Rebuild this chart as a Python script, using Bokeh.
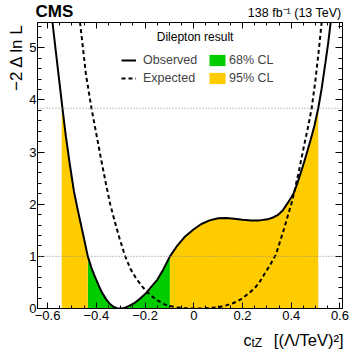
import numpy as np
from bokeh.plotting import figure
from bokeh.layouts import column, row
from bokeh.models import (Range1d, LinearAxis, FixedTicker, CustomJSTickFormatter,
                          Span, Label, Legend, LegendItem)
from bokeh.embed import file_html
from bokeh.resources import INLINE

# ---------------- data ----------------
obs_x = [-0.580, -0.568, -0.553, -0.539, -0.525, -0.510, -0.492, -0.478, -0.465, -0.450,
         -0.435, -0.420, -0.405, -0.390, -0.376, -0.360, -0.345, -0.330, -0.315, -0.300,
         -0.285, -0.265, -0.242, -0.220, -0.195, -0.172, -0.150, -0.125, -0.098, -0.070,
         -0.038, 0.000, 0.031, 0.065, 0.100, 0.133, 0.166, 0.200, 0.235, 0.270,
         0.303, 0.325, 0.344, 0.365, 0.385, 0.400, 0.411, 0.425, 0.439, 0.453,
         0.467, 0.480, 0.495, 0.511, 0.525, 0.540, 0.552, 0.562]
obs_y = [5.49, 5.00, 4.40, 3.84, 3.30, 2.80, 2.25, 1.93, 1.65, 1.33,
         1.00, 0.78, 0.60, 0.44, 0.30, 0.18, 0.09, 0.035, 0.005, 0.0,
         0.012, 0.05, 0.11, 0.19, 0.30, 0.43, 0.55, 0.75, 1.00, 1.19,
         1.37, 1.52, 1.62, 1.69, 1.73, 1.735, 1.72, 1.70, 1.69, 1.69,
         1.71, 1.745, 1.79, 1.88, 2.02, 2.13, 2.22, 2.40, 2.60, 2.81,
         3.03, 3.24, 3.50, 3.84, 4.22, 4.70, 5.10, 5.49]

exp_x = [-0.467, -0.455, -0.443, -0.420, -0.400, -0.380, -0.360, -0.343, -0.325, -0.305,
         -0.283, -0.260, -0.237, -0.213, -0.190, -0.165, -0.144, -0.120, -0.100, -0.070,
         -0.040, -0.010, 0.020, 0.050, 0.080, 0.105, 0.133, 0.160, 0.180, 0.201,
         0.225, 0.248, 0.268, 0.290, 0.310, 0.337, 0.370, 0.405, 0.430, 0.453,
         0.470, 0.484, 0.500, 0.512, 0.525]
exp_y = [5.49, 5.00, 4.50, 3.84, 3.35, 2.85, 2.38, 2.00, 1.68, 1.35,
         1.02, 0.76, 0.58, 0.43, 0.31, 0.21, 0.14, 0.08, 0.05, 0.02,
         0.006, 0.0, 0.0, 0.005, 0.015, 0.03, 0.06, 0.10, 0.14, 0.20,
         0.29, 0.38, 0.49, 0.66, 0.81, 1.03, 1.52, 2.08, 2.60, 3.13,
         3.50, 3.84, 4.40, 4.90, 5.49]

cl68 = [-0.435, -0.098]
cl95 = [-0.542, 0.511]
thresholds = [1.0, 3.84]

x_ticks = [-0.6, -0.4, -0.2, 0.0, 0.2, 0.4, 0.6]
y_ticks = [0, 1, 2, 3, 4, 5]

X_RANGE = (-0.6415, 0.6105)
Y_RANGE = (0.0, 5.485)

FONT = "Liberation Sans"
GREEN = "#00cc00"
YELLOW = "#ffcc00"

# overall page geometry (pixels)
W, H = 349, 349
FL, FR, FT, FB = 35, 342, 22, 308        # frame edges
HEAD_H = FT                                # header strip height
LEFT_W = 26                                # strip holding the y title
MAIN_BOTTOM = 18                           # tick label room below the frame
MAIN_H = (FB - FT) + MAIN_BOTTOM
FOOT_H = H - HEAD_H - MAIN_H


def strip(width, height):
    s = figure(width=width, height=height, x_range=Range1d(0, width),
               y_range=Range1d(0, height), output_backend="svg",
               toolbar_location=None, x_axis_location=None, y_axis_location=None,
               min_border=0, min_border_left=0, min_border_right=0,
               min_border_top=0, min_border_bottom=0)
    s.grid.visible = False
    s.outline_line_color = None
    s.title.visible = False
    s.background_fill_color = "white"
    s.border_fill_color = "white"
    return s


def text(fig, x, y, t, size, align="left", bold=False, angle=0.0):
    # (x, y) is the vertical middle of the text line
    fig.add_layout(Label(x=x, y=y, text=t, text_font=FONT, text_font_size=size,
                         text_align=align, text_baseline="middle",
                         text_font_style="bold" if bold else "normal",
                         text_color="black", angle=angle))


# ---------------- main figure ----------------
p = figure(width=W - LEFT_W, height=MAIN_H,
           x_range=Range1d(*X_RANGE), y_range=Range1d(*Y_RANGE),
           output_backend="svg", toolbar_location=None,
           x_axis_location=None, y_axis_location=None,
           min_border_left=FL - LEFT_W, min_border_right=W - FR,
           min_border_top=0, min_border_bottom=MAIN_BOTTOM)
p.grid.visible = False
p.title.visible = False
p.outline_line_color = "black"
p.background_fill_color = "white"
p.border_fill_color = "white"


def px_x(px):
    return X_RANGE[0] + (px - FL) / (FR - FL) * (X_RANGE[1] - X_RANGE[0])


def px_y(py):
    return Y_RANGE[0] + (FB - py) / (FB - FT) * (Y_RANGE[1] - Y_RANGE[0])


x_minor = [round(v, 3) for v in np.arange(-0.6, 0.6001, 0.05)]
y_minor = [round(v, 2) for v in np.arange(0.0, 5.4001, 0.2)]

fmt_x = CustomJSTickFormatter(code="""
if (Math.abs(tick) < 1e-9) { return "0"; }
return tick.toFixed(1).replace("-", "\\u2212");
""")


def style(ax, major, minor, labels, standoff=2):
    ax.major_tick_in = major
    ax.major_tick_out = 0
    ax.minor_tick_in = minor
    ax.minor_tick_out = 0
    ax.axis_line_color = "black"
    ax.major_tick_line_color = "black"
    ax.minor_tick_line_color = "black"
    if labels:
        ax.major_label_text_font = FONT
        ax.major_label_text_font_size = "13px"
        ax.major_label_text_color = "black"
        ax.major_label_standoff = standoff
    else:
        ax.major_label_text_font_size = "0px"
        ax.major_label_text_alpha = 0
        ax.major_label_standoff = 0


xb = LinearAxis(ticker=FixedTicker(ticks=x_ticks, minor_ticks=x_minor), formatter=fmt_x)
style(xb, 6, 3, True)
p.add_layout(xb, "below")
xt = LinearAxis(ticker=FixedTicker(ticks=x_ticks, minor_ticks=x_minor))
style(xt, 6, 3, False)
p.add_layout(xt, "above")
yl = LinearAxis(ticker=FixedTicker(ticks=y_ticks, minor_ticks=y_minor))
style(yl, 7, 4, True, standoff=1)
p.add_layout(yl, "left")
yr = LinearAxis(ticker=FixedTicker(ticks=y_ticks, minor_ticks=y_minor))
style(yr, 7, 4, False)
p.add_layout(yr, "right")

# ---------------- bands ----------------
ox = np.array(obs_x)
oy = np.array(obs_y)


def band(lo, hi):
    inner = ox[(ox > lo) & (ox < hi)]
    xs = np.concatenate([[lo], inner, [hi]])
    ys = np.interp(xs, ox, oy)
    return xs, ys


gx, gy = band(cl68[0], cl68[1])
ylx, yly = band(cl95[0], cl68[0])
yrx, yry = band(cl68[1], cl95[1])

r_green = p.varea(x=gx, y1=0, y2=gy, fill_color=GREEN)
r_yel = p.varea(x=ylx, y1=0, y2=yly, fill_color=YELLOW)
p.varea(x=yrx, y1=0, y2=yry, fill_color=YELLOW)

for t in thresholds:
    p.add_layout(Span(location=t, dimension="width", line_color="#8a8a8a",
                      line_dash="1 2", line_width=1))

r_exp = p.line(exp_x, exp_y, line_color="black", line_width=2, line_dash="4 3")
r_obs = p.line(obs_x, obs_y, line_color="black", line_width=2)

# ---------------- legends ----------------
common = dict(padding=0, margin=0, border_line_color=None, background_fill_alpha=0,
              label_text_font=FONT, label_text_font_size="12.5px",
              label_height=14, glyph_height=14, spacing=4)
leg_a = Legend(items=[LegendItem(label="Observed", renderers=[r_obs]),
                      LegendItem(label="Expected", renderers=[r_exp])],
               location=(119 - FL, FB - 85), glyph_width=15, label_standoff=7, **common)
leg_b = Legend(items=[LegendItem(label="68% CL", renderers=[r_green]),
                      LegendItem(label="95% CL", renderers=[r_yel])],
               location=(205 - FL, FB - 85), glyph_width=20, label_standoff=2, **common)
p.add_layout(leg_a)
p.add_layout(leg_b)

text(p, px_x(155), px_y(36), "Dilepton result", "12px")

# ---------------- header, left and footer strips ----------------
head = strip(W, HEAD_H)
text(head, FL, HEAD_H - 11, "CMS", "17px", bold=True)
text(head, 341, HEAD_H - 12.5, "138 fb\u207b\u00b9 (13 TeV)", "12.5px", align="right")

left = strip(LEFT_W, MAIN_H)
text(left, 16.3, MAIN_H - 1, "\u22122 \u0394 ln L", "17px", align="right", angle=np.pi / 2)

foot = strip(W, FOOT_H)
text(foot, 243, H - 339.5, "c", "16px")
text(foot, 251, H - 342, "tZ", "12px")
text(foot, 343, H - 339.5, "[(\u039b/TeV)\u00b2]", "16.5px", align="right")

layout = column(head, row(left, p), foot)

open("out.html", "w").write(file_html(layout, INLINE))
